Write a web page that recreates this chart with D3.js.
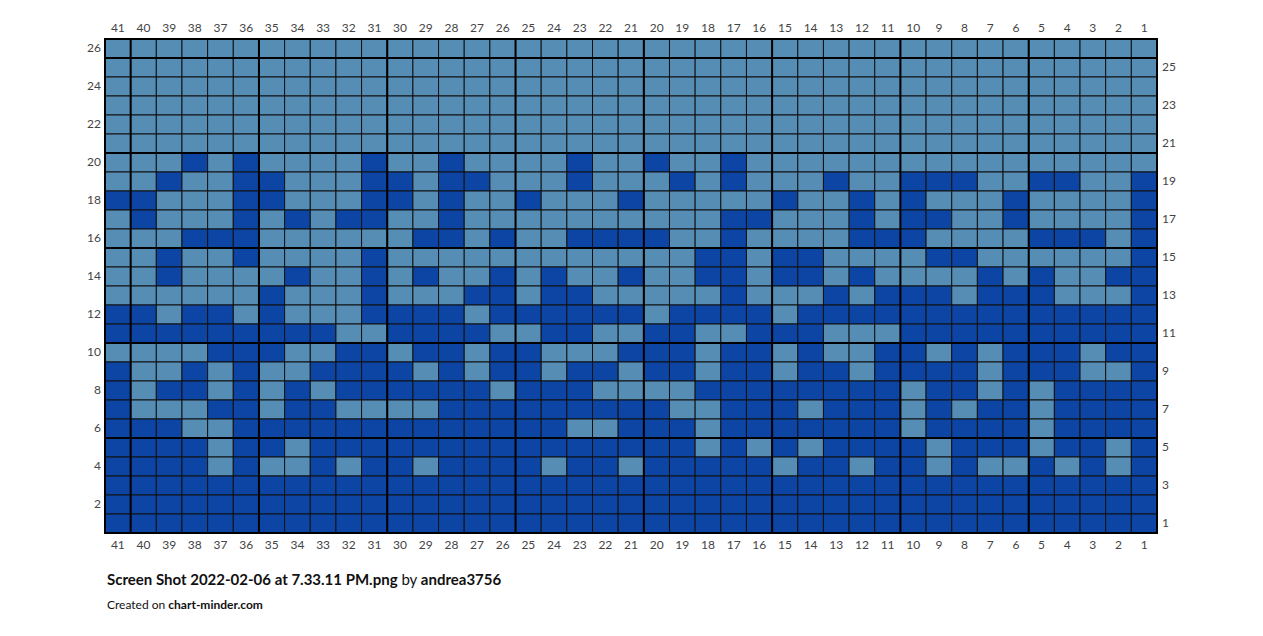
<!DOCTYPE html>
<html><head><meta charset="utf-8">
<script src="https://cdn.jsdelivr.net/npm/d3@7"></script>
<style>body{margin:0;background:#fff;font-family:Lato,sans-serif}</style>
</head><body><svg id="c" width="1263" height="636"></svg>
<script>
const columns = d3.range(41, 0, -1);           // 41 .. 1
const rows = d3.range(26, 0, -1);              // 26 .. 1
// each string: col 41 -> col 1, 1 = dark, 0 = light
const rowPattern = {
 26:"00000000000000000000000000000000000000000",
 25:"00000000000000000000000000000000000000000",
 24:"00000000000000000000000000000000000000000",
 23:"00000000000000000000000000000000000000000",
 22:"00000000000000000000000000000000000000000",
 21:"00000000000000000000000000000000000000000",
 20:"0"+"00101"+"00001"+"00100"+"00100"+"10010"+"00000"+"00000"+"00000",
 19:"0"+"01001"+"10001"+"10110"+"00100"+"01010"+"00100"+"11100"+"11001",
 18:"1"+"10001"+"10001"+"10100"+"10001"+"00000"+"10010"+"10001"+"00001",
 17:"0"+"10001"+"01011"+"00100"+"00000"+"00011"+"00010"+"11001"+"00001",
 16:"0"+"00111"+"00000"+"01101"+"00111"+"10010"+"00011"+"10000"+"11101",
 15:"0"+"01001"+"00001"+"00000"+"00000"+"00110"+"11000"+"01100"+"00001",
 14:"0"+"01000"+"01001"+"01001"+"01001"+"00110"+"11010"+"00010"+"10011",
 13:"0"+"00000"+"10001"+"00011"+"01100"+"00010"+"00101"+"11011"+"10001",
 12:"1"+"10110"+"10001"+"11101"+"11111"+"01111"+"01111"+"11111"+"11111",
 11:"1"+"11111"+"11100"+"11110"+"01100"+"11001"+"11000"+"11111"+"11111",
 10:"0"+"00011"+"10011"+"01101"+"10001"+"11011"+"01001"+"10101"+"11011",
 9:"1"+"00101"+"00111"+"10101"+"10110"+"11011"+"01101"+"11101"+"11001",
 8:"1"+"01101"+"01011"+"11110"+"11100"+"00111"+"11111"+"01101"+"01111",
 7:"1"+"00011"+"01100"+"00111"+"11111"+"10011"+"10111"+"01011"+"01111",
 6:"1"+"11001"+"11111"+"11111"+"11001"+"11011"+"11111"+"01111"+"01111",
 5:"1"+"11101"+"10111"+"11111"+"11111"+"11010"+"10111"+"10111"+"01101",
 4:"1"+"11101"+"00101"+"10111"+"10110"+"11111"+"01101"+"10100"+"10101",
 3:"11111111111111111111111111111111111111111",
 2:"11111111111111111111111111111111111111111",
 1:"11111111111111111111111111111111111111111"
};
const leftTicks = [26,24,22,20,18,16,14,12,10,8,6,4,2];
const rightTicks = [25,23,21,19,17,15,13,11,9,7,5,3,1];
const colors = ["#568db5","#0d45a4"];

const svg = d3.select("#c");
const L=105,R=1157,T=39,B=533;
const x = d3.scaleBand().domain(columns).range([L,R]);
const y = d3.scaleBand().domain(rows).range([T,B]);

const cells=[];
rows.forEach(r=>columns.forEach((c,i)=>cells.push({r,c,v:+rowPattern[r][i]})));
svg.append("g").selectAll("rect").data(cells).join("rect")
 .attr("x",d=>x(d.c)).attr("y",d=>y(d.r)).attr("width",x.bandwidth()).attr("height",y.bandwidth())
 .attr("fill",d=>colors[d.v]).attr("stroke","#111").attr("stroke-width",1);

const g=svg.append("g");
columns.filter(c=>c%5===0).forEach(c=>{
 const xx=x(c);
 g.append("line").attr("x1",xx).attr("x2",xx).attr("y1",T).attr("y2",B).attr("stroke","#000").attr("stroke-width",2);
});
rows.filter(r=>r%5===0).forEach(r=>{
 const yy=y(r);
 g.append("line").attr("x1",L).attr("x2",R).attr("y1",yy).attr("y2",yy).attr("stroke","#000").attr("stroke-width",2);
});
g.append("rect").attr("x",L).attr("y",T).attr("width",R-L).attr("height",B-T).attr("fill","none").attr("stroke","#000").attr("stroke-width",2);

function style(sel){sel.select(".domain").remove();sel.selectAll("text").attr("fill","#444").style("font-family","Lato,sans-serif").style("font-size","12px");}
svg.append("g").attr("transform",`translate(0,${T-4})`).call(d3.axisTop(x).tickSize(0).tickPadding(3)).call(style);
svg.append("g").attr("transform",`translate(0,${B+4})`).call(d3.axisBottom(x).tickSize(0).tickPadding(3)).call(style);
svg.append("g").attr("transform",`translate(${L-2},0)`).call(d3.axisLeft(y).tickValues(leftTicks).tickSize(0).tickPadding(2)).call(style);
svg.append("g").attr("transform",`translate(${R+2},0)`).call(d3.axisRight(y).tickValues(rightTicks).tickSize(0).tickPadding(3)).call(style);

const t=svg.append("text").attr("x",107).attr("y",585).style("font-size","15px").attr("fill","#111");
t.append("tspan").attr("font-weight","bold").text("Screen Shot 2022-02-06 at 7.33.11 PM.png");
t.append("tspan").text(" by ");
t.append("tspan").attr("font-weight","bold").text("andrea3756");
const t2=svg.append("text").attr("x",107).attr("y",609).style("font-size","12px").attr("fill","#111");
t2.append("tspan").text("Created on ");
t2.append("tspan").attr("font-weight","bold").text("chart-minder.com");
</script></body></html>
